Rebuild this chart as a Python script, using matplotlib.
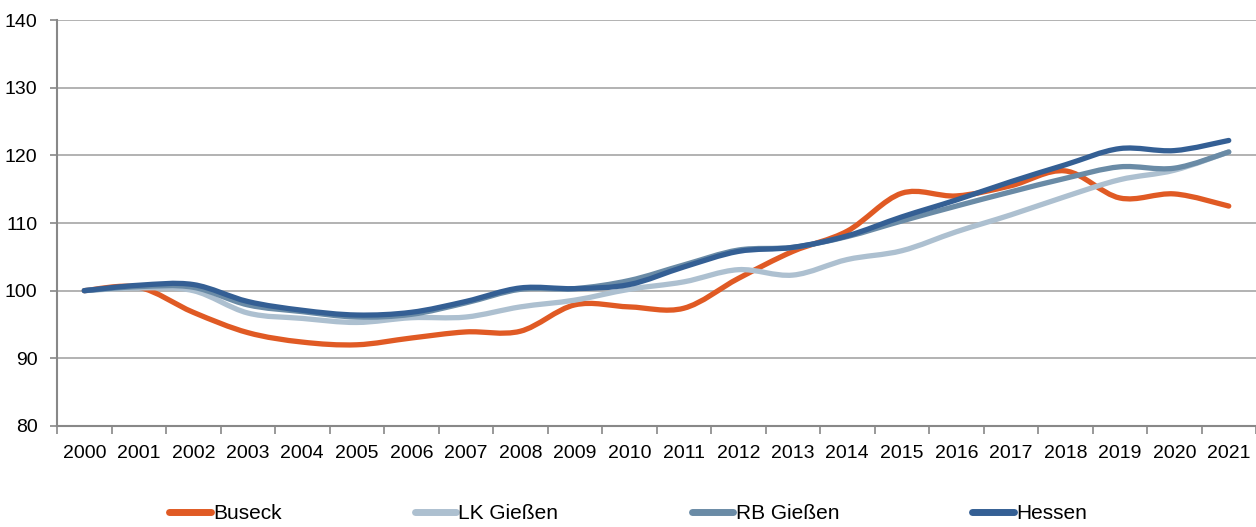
import numpy as np
import matplotlib.pyplot as plt
from matplotlib.path import Path
from matplotlib.patches import PathPatch
from matplotlib.lines import Line2D

plt.rcParams['font.family'] = ['Liberation Sans', 'DejaVu Sans']

years = [str(y) for y in range(2000, 2022)]

buseck = [100.0, 100.5, 96.8, 93.8, 92.4, 92.0, 93.0, 93.9, 94.0, 97.9, 97.6,
          97.4, 101.8, 105.8, 108.8, 114.4, 114.0, 115.5, 117.7, 113.7, 114.3, 112.5]
lk_giessen = [100.0, 100.4, 100.0, 96.7, 95.9, 95.3, 96.0, 96.1, 97.6, 98.6, 100.2,
              101.3, 103.1, 102.3, 104.6, 105.9, 108.7, 111.2, 113.9, 116.4, 117.8, 120.5]
rb_giessen = [100.0, 100.6, 100.5, 97.9, 96.9, 96.1, 96.5, 98.2, 100.2, 100.3, 101.5,
              103.8, 106.0, 106.4, 108.0, 110.3, 112.5, 114.6, 116.6, 118.3, 118.1, 120.5]
hessen = [100.0, 100.8, 100.9, 98.4, 97.1, 96.4, 96.8, 98.4, 100.4, 100.3, 100.9,
          103.5, 105.8, 106.4, 108.1, 110.9, 113.4, 116.1, 118.6, 121.0, 120.7, 122.2]

series = [("Buseck", buseck, "#E05A24"),
          ("LK Gießen", lk_giessen, "#ADC0D0"),
          ("RB Gießen", rb_giessen, "#6A8BA6"),
          ("Hessen", hessen, "#345F94")]


def smooth_path(xs, ys):
    """Bezier path through the points (Excel-style smoothed line)."""
    p = np.column_stack([xs, ys]).astype(float)
    ext = np.vstack([p[0], p, p[-1]])
    verts = [p[0]]
    codes = [Path.MOVETO]
    for i in range(len(p) - 1):
        p0, p1, p2, p3 = ext[i], ext[i + 1], ext[i + 2], ext[i + 3]
        c1 = p1 + (p2 - p0) / 6
        c2 = p2 - (p3 - p1) / 6
        verts += [c1, c2, p2]
        codes += [Path.CURVE4] * 3
    return Path(verts, codes)


fig = plt.figure(figsize=(12.56, 5.27), dpi=100)
ax = fig.add_axes([0.0454, 0.1917, 0.9546, 0.7703])

x = np.arange(len(years))
handles = []
for i, (name, vals, col) in enumerate(series):
    patch = PathPatch(smooth_path(x, vals), facecolor='none', edgecolor=col,
                      lw=3.8, capstyle='round', joinstyle='round', zorder=3 + i)
    ax.add_patch(patch)
    handles.append(Line2D([], [], color=col, lw=5, solid_capstyle='round', label=name))

ax.set_xlim(-0.5, len(years) - 0.5)
ax.set_ylim(80, 140)
ax.set_yticks(range(80, 141, 10))
ax.grid(axis='y', color='#A6A6A6', lw=1.2, zorder=0)

ax.set_xticks(x)
ax.set_xticklabels(years)
ax.set_xticks(np.arange(-0.5, len(years), 1), minor=True)
ax.tick_params(axis='x', which='major', length=0, pad=14, labelsize=14)
ax.tick_params(axis='x', which='minor', length=6, width=1.2, color='#888888')
ax.tick_params(axis='y', length=5, width=1.2, color='#888888', labelsize=14, pad=9)

for s in ['top', 'right']:
    ax.spines[s].set_visible(False)
for s in ['left', 'bottom']:
    ax.spines[s].set_color('#888888')
    ax.spines[s].set_linewidth(1.5)

fig.legend(handles=handles, loc='center', bbox_to_anchor=(0.5, 0.025), ncol=4,
           frameon=False, fontsize=15, handlelength=2.0, handletextpad=0.1,
           columnspacing=6.4)

fig.savefig("out.png", dpi=100)
